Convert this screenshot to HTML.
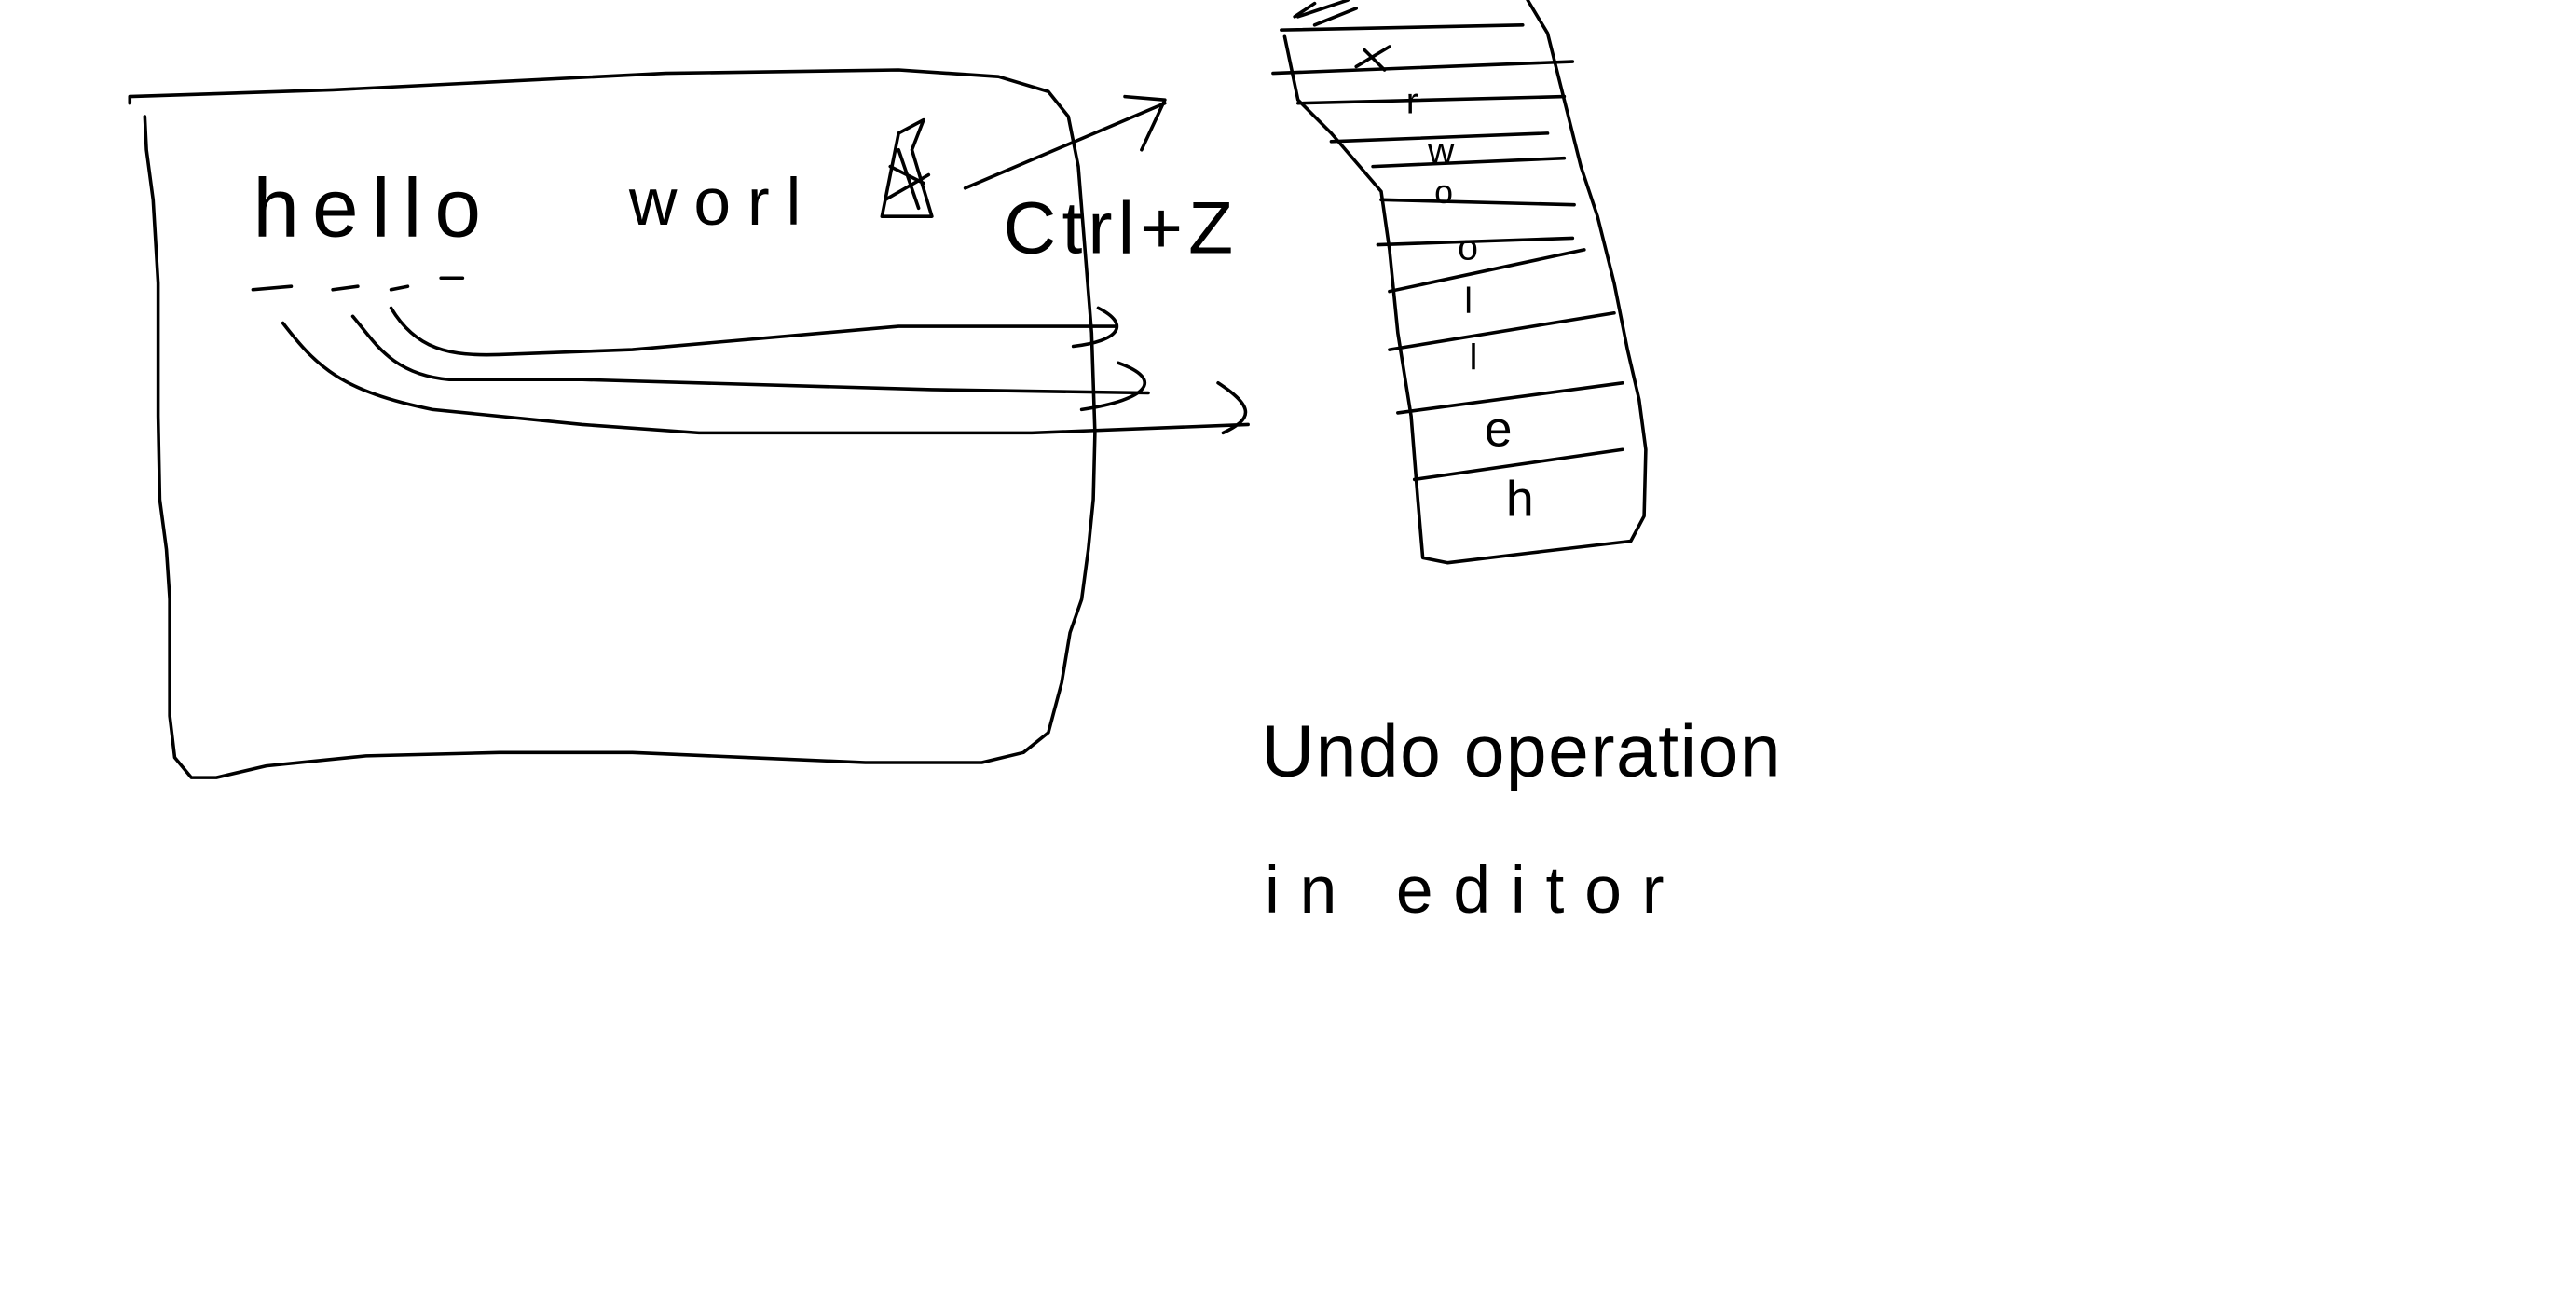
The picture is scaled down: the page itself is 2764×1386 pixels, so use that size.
<!DOCTYPE html>
<html><head><meta charset="utf-8"><style>
html,body{margin:0;padding:0;background:#fff;width:2764px;height:1386px;overflow:hidden}
svg{display:block}
text{font-family:"Liberation Sans",sans-serif;fill:#000}
</style></head><body>
<svg width="2764" height="1386" viewBox="0 0 1548 776" preserveAspectRatio="none" fill="none" stroke="#000" stroke-width="2" stroke-linecap="round" stroke-linejoin="round">
<rect x="0" y="0" width="1548" height="776" fill="#fff" stroke="none"/>
<g>
<path d="M78,62 L78,58 L200,54 L400,44 L540,42 L600,46 L630,55 L642,70 L648,100 L652,150 L656,200 L658,260 L657,300 L654,330 L650,360 L643,380 L638,410 L630,440 L615,452 L590,458 L520,458 L450,455 L380,452 L300,452 L220,454 L160,460 L130,467 L115,467 L105,455 L102,430 L102,360 L100,330 L96,300 L95,250 L95,170 L92,120 L88,90 L87,70"/>
</g>
<text x="152" y="142" font-size="50" stroke="none" letter-spacing="8" textLength="145">hello</text>
<text x="378" y="135" font-size="40" stroke="none" letter-spacing="10">worl</text>
<path d="M530,130 L540,80 L555,72 L548,90 L560,130 L530,130 M535,100 L555,110 M532,120 L558,105 M540,90 L552,125"/>
<path d="M580,113 L700,62 M676,58 L700,60 L686,90"/>
<text x="603" y="152" font-size="44" stroke="none" textLength="138">Ctrl+Z</text>
<g>
<path d="M152,174 L175,172 M200,174 L215,172 M235,174 L245,172 M265,167 L278,167"/>
</g>
<g>
<path d="M235,185 C250,210 270,214 300,213 L380,210 L540,196 L670,196 M660,185 C680,195 672,205 645,208"/>
<path d="M212,190 C225,205 235,225 270,228 L350,228 L560,234 L690,236 M672,218 C700,228 690,240 650,246"/>
<path d="M170,194 C190,220 205,235 260,246 L350,255 L420,260 L620,260 L750,255 M732,230 C755,245 752,252 735,260"/>
</g>
<g>
<path d="M778,10 L790,2 M772,22 L780,60 L800,80 L830,115 L835,150 L840,200 L848,250 L852,300 L855,335 L870,338 L920,332 L980,325 L988,310 L989,270 L985,240 L978,210 L970,170 L960,130 L950,100 L940,60 L930,20 L918,0"/>
<path d="M770,18 L915,15 M765,44 L945,37 M780,62 L940,58 M800,85 L930,80 M825,100 L940,95 M830,120 L946,123 M828,147 L945,143 M835,175 L952,150 M835,210 L970,188 M840,248 L975,230 M850,288 L975,270"/>
<path d="M780,10 L810,0 M790,15 L815,5 M815,40 L835,28 M820,30 L832,42"/>
</g>
<g stroke="none" font-size="22">
<text x="845" y="68">r</text>
<text x="858" y="98">w</text>
<text x="862" y="122" font-size="20">o</text>
<text x="876" y="156">o</text>
<text x="880" y="188">l</text>
<text x="883" y="222">l</text>
<text x="892" y="268" font-size="30">e</text>
<text x="905" y="310" font-size="30">h</text>
</g>
<text x="758" y="466" font-size="44" stroke="none" textLength="312">Undo operation</text>
<text x="760" y="548" font-size="40" stroke="none" textLength="240">in  editor</text>
</svg>
</body></html>
